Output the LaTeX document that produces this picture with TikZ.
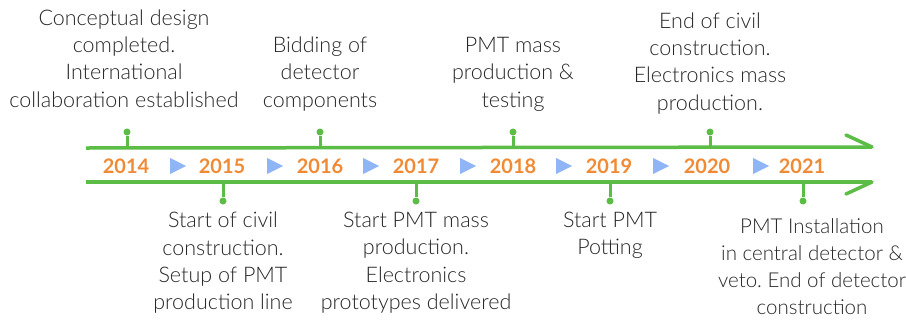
\documentclass[tikz,border=0pt]{standalone}
\usepackage{fontspec}
\setmainfont{Lato}
\newfontfamily\thinfont{Lato Light}
\usetikzlibrary{shapes.geometric}
\definecolor{linegreen}{HTML}{5BBD45}
\definecolor{yearorange}{HTML}{F08A35}
\definecolor{triblue}{HTML}{8FB5F7}
\frenchspacing
\begin{document}
\begin{tikzpicture}[x=1pt, y=-1pt,
    rail/.style = {draw=linegreen, line width=3.5pt},
    tickline/.style = {draw=linegreen, line width=3pt},
    dot/.style = {circle, fill=linegreen, inner sep=0pt, minimum size=7pt},
    headstroke/.style = {draw=linegreen, line width=3.5pt, line cap=round},
    year/.style = {text=yearorange, font=\fontsize{20}{22}\selectfont\bfseries, inner sep=0pt},
    pointer/.style = {isosceles triangle, isosceles triangle stretches, fill=triblue, inner sep=0pt, minimum width=16pt, minimum height=16pt},
    event/.style = {align=center, inner sep=0pt, text=black!85, font=\thinfont\fontsize{21.5}{27.3}\selectfont}]
    \useasboundingbox (0,0) rectangle (906,322);
    % rails
    \coordinate (railTL) at (86,148);
    \coordinate (railTR) at (872,147);
    \coordinate (railBL) at (86,182);
    \coordinate (railBR) at (872,182);
    \coordinate (headT) at (846,135);
    \coordinate (headB) at (846,194);
    \draw[rail] (railTL) -- (railTR);
    \draw[rail] (railBL) -- (railBR);
    \draw[headstroke] (headT) -- (railTR);
    \draw[headstroke] (headB) -- (railBR);
    % years and pointers
    \foreach \yr/\x in {2014/126, 2015/222, 2016/320, 2017/416, 2018/513, 2019/609, 2020/707, 2021/802}
        \node[year] (y\yr) at (\x,166) {\yr};
    \foreach \x in {175, 272, 368, 465, 561, 658, 758}
        \node[pointer] at (\x,166) {};
    % ticks above
    \foreach \yr/\x in {2014/127, 2016/320, 2018/513, 2020/710} {
        \node[dot] (d\yr) at (\x,132) {};
        \coordinate (t\yr) at (\x,148);
        \draw[tickline] (d\yr) -- (t\yr);
    }
    % ticks below
    \foreach \yr/\x in {2015/223, 2017/416, 2019/610, 2021/803} {
        \node[dot] (d\yr) at (\x,201) {};
        \coordinate (t\yr) at (\x,182);
        \draw[tickline] (t\yr) -- (d\yr);
    }
    % events
    \node[event, anchor=base] (e2014) at (124,107) {Conceptual design\\completed.\\International\\collaboration established};
    \node[event, anchor=base] (e2016) at (320,107) {Bidding of\\detector\\components};
    \node[event, anchor=base] (e2018) at (513,107) {PMT mass\\production \&\\testing};
    \node[event, anchor=base] (e2020) at (710,110) {End of civil\\construction.\\Electronics mass\\production.};
    \node[event, anchor=north] (e2015) at (223,212) {Start of civil\\construction.\\Setup of PMT\\production line};
    \node[event, anchor=north] (e2017) at (416,212) {Start PMT mass\\production.\\Electronics\\prototypes delivered};
    \node[event, anchor=north] (e2019) at (610,212) {Start PMT\\Potting};
    \node[event, anchor=north, font=\thinfont\fontsize{20.5}{27}\selectfont] (e2021) at (812,218) {PMT Installation\\in central detector \&\\veto. End of detector\\construction};
\end{tikzpicture}
\end{document}
